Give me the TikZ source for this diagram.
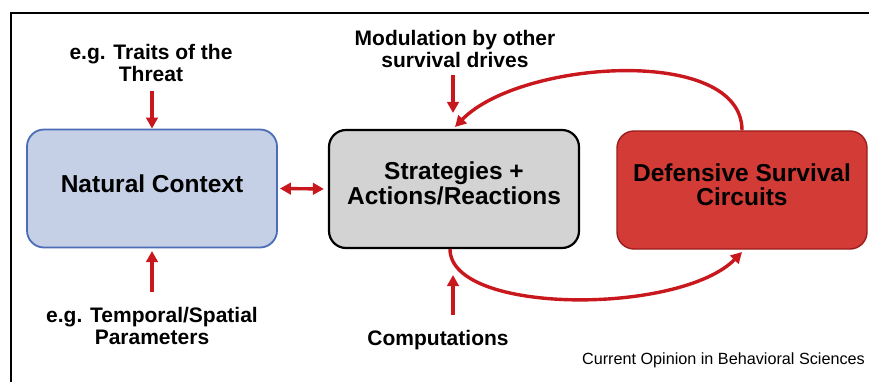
\documentclass[tikz,border=0pt]{standalone}
\usepackage{fontspec}
\setmainfont{Liberation Sans}
\usetikzlibrary{arrows.meta}

\definecolor{arrowred}{HTML}{C9171E}
\definecolor{ncfill}{HTML}{C5D0E6}
\definecolor{ncborder}{HTML}{4B6DB5}
\definecolor{sarfill}{HTML}{D3D3D3}
\definecolor{dscfill}{HTML}{D33B36}
\definecolor{dscborder}{HTML}{9C1D1D}

\begin{document}
\begin{tikzpicture}[x=1pt, y=-1pt,
  box/.style={rounded corners=17pt, minimum width=250pt, minimum height=118pt,
    align=center, inner sep=0pt,
    font=\fontsize{24.5}{24.5}\selectfont\bfseries},
  lbl/.style={align=center, inner sep=0pt,
    font=\fontsize{21}{21.5}\selectfont\bfseries},
  redarrow/.style={draw=arrowred, line width=3.4pt,
    -{Triangle[length=11pt, width=11.5pt]}},
  twoway/.style={draw=arrowred, line width=3.4pt,
    {Triangle[length=11pt, width=11.5pt]}-{Triangle[length=11pt, width=11.5pt]}},
]
\useasboundingbox (0,0) rectangle (869,382);

% outer frame, open to the right and bottom
\draw[line width=1.5pt] (871,13) -- (11,13) -- (11,384);

% the three boxes
\node[box, fill=ncfill, draw=ncborder, line width=1.8pt, text depth=10pt]
  (nc) at (152,188.5) {Natural Context};
\node[box, fill=sarfill, draw=black, line width=2.2pt, text depth=12pt]
  (sar) at (454,189) {Strategies +\\Actions/Reactions};
\node[box, fill=dscfill, draw=dscborder, line width=1.4pt, text depth=11pt]
  (dsc) at (742,190) {Defensive Survival\\Circuits};

% side labels
\node[lbl] (traits) at (151,63) {e.g. Traits of the\\Threat};
\node[lbl] (modul) at (455,49) {Modulation by other\\survival drives};
\node[lbl] (tempo) at (152,326) {e.g. Temporal/Spatial\\Parameters};
\node[lbl, anchor=base] (comp) at (438,345) {Computations};
\node[anchor=base east, inner sep=0pt, font=\fontsize{16.2}{18}\selectfont]
  (source) at (865,364) {Current Opinion in Behavioral Sciences};

% free ends of the short input arrows
\coordinate (traitsArr) at (152,91);
\coordinate (modulA) at (453,75);
\coordinate (modulB) at (453,113);
\coordinate (tempoArr) at (152,292);
\coordinate (tempoTip) at (152,251);
\coordinate (compA) at (453,315);
\coordinate (compB) at (453,275);

\draw[redarrow] (traitsArr) -- (nc.north);
\draw[redarrow] (modulA) -- (modulB);
\draw[redarrow] (tempoArr) -- (tempoTip);
\draw[redarrow] (compA) -- (compB);

% context <-> strategies
\draw[twoway, shorten <=2pt, shorten >=4pt] (nc.east) -- (sar.west);

% loop between strategies and the defensive circuits
\coordinate (sarTop) at (455,127);
\coordinate (sarBot) at (450,249);
\coordinate (dscBot) at (742,252);
\draw[redarrow] (dsc.north) .. controls (742,45) and (520,60) .. (sarTop);
\draw[redarrow] (sarBot) .. controls (450,315) and (680,315) .. (dscBot);
\end{tikzpicture}
\end{document}
